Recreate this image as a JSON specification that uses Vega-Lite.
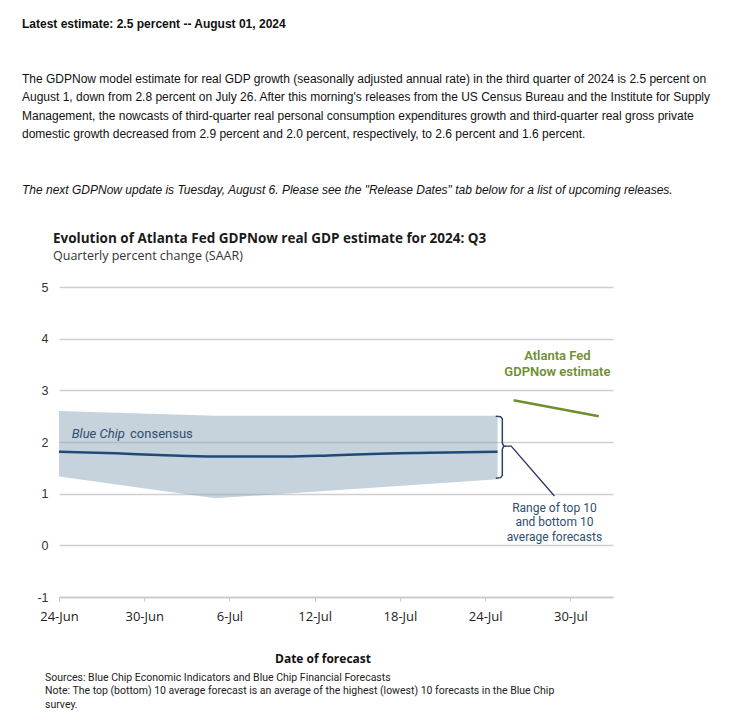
{
  "$schema": "https://vega.github.io/schema/vega-lite/v6.json",
  "background": "white",
  "padding": {"left": 22, "top": 17, "right": 5, "bottom": 5},
  "config": {"view": {"stroke": null}, "concat": {"spacing": 0}},
  "title": {
    "text": "Latest estimate: 2.5 percent -- August 01, 2024",
    "subtitle": [
      "The GDPNow model estimate for real GDP growth (seasonally adjusted annual rate) in the third quarter of 2024 is 2.5 percent on",
      "August 1, down from 2.8 percent on July 26. After this morning's releases from the US Census Bureau and the Institute for Supply",
      "Management, the nowcasts of third-quarter real personal consumption expenditures growth and third-quarter real gross private",
      "domestic growth decreased from 2.9 percent and 2.0 percent, respectively, to 2.6 percent and 1.6 percent."
    ],
    "anchor": "start",
    "frame": "group",
    "dx": -37,
    "font": "Liberation Sans",
    "fontSize": 12,
    "fontWeight": "bold",
    "color": "#111111",
    "subtitleFont": "Liberation Sans",
    "subtitleFontSize": 12,
    "subtitleColor": "#111111",
    "subtitleLineHeight": 18.4,
    "subtitlePadding": 43,
    "offset": 43
  },
  "vconcat": [
    {
      "title": {
        "text": "The next GDPNow update is Tuesday, August 6. Please see the \"Release Dates\" tab below for a list of upcoming releases.",
        "anchor": "start",
        "frame": "group",
        "dx": -37,
        "font": "Liberation Sans",
        "fontSize": 12,
        "fontStyle": "italic",
        "fontWeight": "normal",
        "color": "#111111",
        "offset": 35
      },
      "vconcat": [
        {
          "title": {
            "text": "Sources: Blue Chip Economic Indicators and Blue Chip Financial Forecasts",
            "subtitle": [
              "Note: The top (bottom) 10 average forecast is an average of the highest (lowest) 10 forecasts in the Blue Chip",
              "survey."
            ],
            "orient": "bottom",
            "anchor": "start",
            "frame": "group",
            "dx": -14,
            "font": "Roboto",
            "fontSize": 10.5,
            "fontWeight": "normal",
            "color": "#222222",
            "subtitleFont": "Roboto",
            "subtitleFontSize": 10.5,
            "subtitleColor": "#222222",
            "subtitleLineHeight": 14,
            "subtitlePadding": 2,
            "offset": 9
          },
          "vconcat": [
            {
              "width": 554,
              "height": 310,
              "title": {
                "text": "Evolution of Atlanta Fed GDPNow real GDP estimate for 2024: Q3",
                "subtitle": "Quarterly percent change (SAAR)",
                "anchor": "start",
                "frame": "group",
                "dx": -6,
                "offset": 19,
                "font": "Open Sans",
                "fontSize": 13.5,
                "fontWeight": "bold",
                "color": "#1a1a1a",
                "subtitleFont": "Open Sans",
                "subtitleFontSize": 12.5,
                "subtitleColor": "#333333",
                "subtitlePadding": 4
              },
              "layer": [
                {
                  "data": {"values": [
                    {"d": "2024-06-24T00:00:00Z", "lo": 1.33, "hi": 2.60},
                    {"d": "2024-07-05T00:00:00Z", "lo": 0.91, "hi": 2.51},
                    {"d": "2024-07-24T21:00:00Z", "lo": 1.28, "hi": 2.51}
                  ]},
                  "mark": {"type": "area", "color": "#8ea8bc", "opacity": 0.5},
                  "encoding": {
                    "x": {
                      "field": "d", "type": "temporal",
                      "scale": {"type": "utc", "domain": [
                        {"year": 2024, "month": 6, "date": 24, "utc": true},
                        {"year": 2024, "month": 8, "date": 2, "utc": true}
                      ]},
                      "axis": {
                        "values": [
                          {"year": 2024, "month": 6, "date": 24, "utc": true},
                          {"year": 2024, "month": 6, "date": 30, "utc": true},
                          {"year": 2024, "month": 7, "date": 6, "utc": true},
                          {"year": 2024, "month": 7, "date": 12, "utc": true},
                          {"year": 2024, "month": 7, "date": 18, "utc": true},
                          {"year": 2024, "month": 7, "date": 24, "utc": true},
                          {"year": 2024, "month": 7, "date": 30, "utc": true}
                        ],
                        "labelExpr": "utcFormat(datum.value, '%-d-%b')",
                        "grid": false,
                        "domain": true,
                        "domainColor": "#c8c8c8",
                        "domainWidth": 1.5,
                        "ticks": true,
                        "tickColor": "#c8c8c8",
                        "tickSize": 4,
                        "tickWidth": 1,
                        "labelFont": "Open Sans",
                        "labelFontSize": 13,
                        "labelColor": "#222222",
                        "labelPadding": 9,
                        "labelFlush": false,
                        "labelOverlap": false,
                        "title": "Date of forecast",
                        "titleFont": "Open Sans",
                        "titleFontSize": 12,
                        "titleFontWeight": "bold",
                        "titleColor": "#111111",
                        "titlePadding": 30,
                        "titleX": 263.5
                      }
                    },
                    "y": {
                      "field": "hi", "type": "quantitative",
                      "scale": {"domain": [-1, 5], "nice": false, "zero": false},
                      "axis": {
                        "values": [-1, 0, 1, 2, 3, 4, 5],
                        "labelExpr": "replace(datum.label, '\u2212', '-')",
                        "grid": true,
                        "gridColor": "#cfcfcf",
                        "gridWidth": 1.5,
                        "domain": false,
                        "ticks": false,
                        "labelPadding": 11,
                        "labelFont": "Liberation Sans",
                        "labelFontSize": 12.5,
                        "labelColor": "#333333",
                        "title": null,
                        "minExtent": 37,
                        "maxExtent": 37
                      }
                    },
                    "y2": {"field": "lo"}
                  }
                },
                {
                  "data": {"values": [
                    {"d": "2024-06-24T00:00:00Z", "v": 1.81},
                    {"d": "2024-06-28T00:00:00Z", "v": 1.78},
                    {"d": "2024-07-01T00:00:00Z", "v": 1.75},
                    {"d": "2024-07-05T00:00:00Z", "v": 1.72},
                    {"d": "2024-07-10T00:00:00Z", "v": 1.72},
                    {"d": "2024-07-13T00:00:00Z", "v": 1.74},
                    {"d": "2024-07-16T00:00:00Z", "v": 1.77},
                    {"d": "2024-07-20T00:00:00Z", "v": 1.79},
                    {"d": "2024-07-24T21:00:00Z", "v": 1.81}
                  ]},
                  "mark": {"type": "line", "color": "#1f4a78", "strokeWidth": 2.5, "interpolate": "monotone"},
                  "encoding": {
                    "x": {"field": "d", "type": "temporal"},
                    "y": {"field": "v", "type": "quantitative"}
                  }
                },
                {
                  "data": {"values": [
                    {"d": "2024-07-26T00:00:00Z", "v": 2.81},
                    {"d": "2024-08-01T00:00:00Z", "v": 2.50}
                  ]},
                  "mark": {"type": "line", "color": "#6e8f2f", "strokeWidth": 2.5},
                  "encoding": {
                    "x": {"field": "d", "type": "temporal"},
                    "y": {"field": "v", "type": "quantitative"}
                  }
                },
                {
                  "data": {"values": [
                    {"i": 1, "d": "2024-07-24T18:00:00Z", "v": 2.50},
                    {"i": 2, "d": "2024-07-25T02:00:00Z", "v": 2.49},
                    {"i": 3, "d": "2024-07-25T05:00:00Z", "v": 2.45},
                    {"i": 4, "d": "2024-07-25T05:00:00Z", "v": 1.98},
                    {"i": 5, "d": "2024-07-25T07:00:00Z", "v": 1.93},
                    {"i": 6, "d": "2024-07-25T09:00:00Z", "v": 1.92},
                    {"i": 7, "d": "2024-07-25T07:00:00Z", "v": 1.91},
                    {"i": 8, "d": "2024-07-25T05:00:00Z", "v": 1.86},
                    {"i": 9, "d": "2024-07-25T05:00:00Z", "v": 1.35},
                    {"i": 10, "d": "2024-07-25T02:00:00Z", "v": 1.31},
                    {"i": 11, "d": "2024-07-24T18:00:00Z", "v": 1.30}
                  ]},
                  "mark": {"type": "line", "color": "#2a4470", "strokeWidth": 1.5},
                  "encoding": {
                    "x": {"field": "d", "type": "temporal"},
                    "y": {"field": "v", "type": "quantitative"},
                    "order": {"field": "i"}
                  }
                },
                {
                  "data": {"values": [
                    {"i": 1, "d": "2024-07-25T09:00:00Z", "v": 1.92},
                    {"i": 2, "d": "2024-07-25T20:00:00Z", "v": 1.92},
                    {"i": 3, "d": "2024-07-28T21:00:00Z", "v": 0.955}
                  ]},
                  "mark": {"type": "line", "color": "#2a3366", "strokeWidth": 1.3},
                  "encoding": {
                    "x": {"field": "d", "type": "temporal"},
                    "y": {"field": "v", "type": "quantitative"},
                    "order": {"field": "i"}
                  }
                },
                {
                  "data": {"values": [
                    {"d": "2024-06-24T21:30:00Z", "v": 2.085, "t": "Blue Chip"}
                  ]},
                  "mark": {"type": "text", "font": "Roboto", "fontSize": 13, "fontStyle": "italic", "color": "#2e4d6e", "align": "left", "baseline": "alphabetic"},
                  "encoding": {
                    "x": {"field": "d", "type": "temporal"},
                    "y": {"field": "v", "type": "quantitative"},
                    "text": {"field": "t"}
                  }
                },
                {
                  "data": {"values": [
                    {"d": "2024-06-29T00:00:00Z", "v": 2.085, "t": "consensus"}
                  ]},
                  "mark": {"type": "text", "font": "Roboto", "fontSize": 13, "color": "#2e4d6e", "align": "left", "baseline": "alphabetic"},
                  "encoding": {
                    "x": {"field": "d", "type": "temporal"},
                    "y": {"field": "v", "type": "quantitative"},
                    "text": {"field": "t"}
                  }
                },
                {
                  "data": {"values": [
                    {"d": "2024-07-29T02:00:00Z", "v": 3.66, "t": "Atlanta Fed"},
                    {"d": "2024-07-29T02:00:00Z", "v": 3.35, "t": "GDPNow estimate"}
                  ]},
                  "mark": {"type": "text", "font": "Roboto", "fontSize": 13, "fontWeight": 600, "color": "#6e8f2f", "align": "center", "baseline": "middle"},
                  "encoding": {
                    "x": {"field": "d", "type": "temporal"},
                    "y": {"field": "v", "type": "quantitative"},
                    "text": {"field": "t"}
                  }
                },
                {
                  "data": {"values": [
                    {"d": "2024-07-28T21:00:00Z", "v": 0.73, "t": "Range of top 10"},
                    {"d": "2024-07-28T21:00:00Z", "v": 0.45, "t": "and bottom 10"},
                    {"d": "2024-07-28T21:00:00Z", "v": 0.17, "t": "average forecasts"}
                  ]},
                  "mark": {"type": "text", "font": "Roboto", "fontSize": 12, "color": "#2e4f70", "align": "center", "baseline": "middle"},
                  "encoding": {
                    "x": {"field": "d", "type": "temporal"},
                    "y": {"field": "v", "type": "quantitative"},
                    "text": {"field": "t"}
                  }
                }
              ]
            }
          ]
        }
      ]
    }
  ]
}
